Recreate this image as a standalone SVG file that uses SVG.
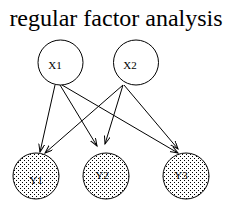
<svg xmlns="http://www.w3.org/2000/svg" width="236" height="211" viewBox="0 0 236 211">
<style>
.node{fill:#fff;stroke:#000;stroke-width:1}
.obs{fill:url(#dots);stroke:#000;stroke-width:1}
.lbl{font-family:"Liberation Serif","Times New Roman",serif;font-size:11px;fill:#000;text-anchor:middle}
.title{font-family:"Liberation Serif","Times New Roman",serif;font-size:24px;fill:#000;text-anchor:middle}
.edge{stroke:#000;stroke-width:1;fill:none;marker-end:url(#arr)}
</style>
<defs>
<pattern id="dots" width="4" height="4" patternUnits="userSpaceOnUse">
<rect width="4" height="4" fill="#fff"/>
<rect x="0" y="0" width="1" height="1" fill="#000"/>
<rect x="2" y="2" width="1" height="1" fill="#000"/>
</pattern>
<marker id="arr" markerWidth="10" markerHeight="8" refX="8" refY="3" orient="auto" markerUnits="userSpaceOnUse">
<path d="M0,0 L8,3 L0,6" fill="none" stroke="#000" stroke-width="1"/>
</marker>
</defs>
<rect width="236" height="211" fill="#fff"/>
<text class="title" x="116" y="26">regular factor analysis</text>
<g id="connectors">
<line class="edge" x1="55" y1="85" x2="40" y2="152"/>
<line class="edge" x1="60" y1="85" x2="97" y2="146"/>
<line class="edge" x1="62" y1="85" x2="178" y2="153"/>
<line class="edge" x1="123" y1="85" x2="45" y2="153"/>
<line class="edge" x1="123" y1="85" x2="105" y2="144"/>
<line class="edge" x1="124" y1="85" x2="178" y2="149"/>
</g>
<g id="X1"><circle class="node" cx="60.5" cy="62.5" r="22.5"/><text class="lbl" x="55" y="69">X1</text></g>
<g id="X2"><circle class="node" cx="136" cy="62.5" r="22.5"/><text class="lbl" x="130" y="69">X2</text></g>
<g id="Y1"><circle class="obs" cx="36" cy="176" r="23"/><text class="lbl" x="36" y="184">Y1</text></g>
<g id="Y2"><circle class="obs" cx="106" cy="176" r="23"/><text class="lbl" x="102" y="179">Y2</text></g>
<g id="Y3"><circle class="obs" cx="186" cy="176" r="23"/><text class="lbl" x="181" y="179">Y3</text></g>
</svg>
